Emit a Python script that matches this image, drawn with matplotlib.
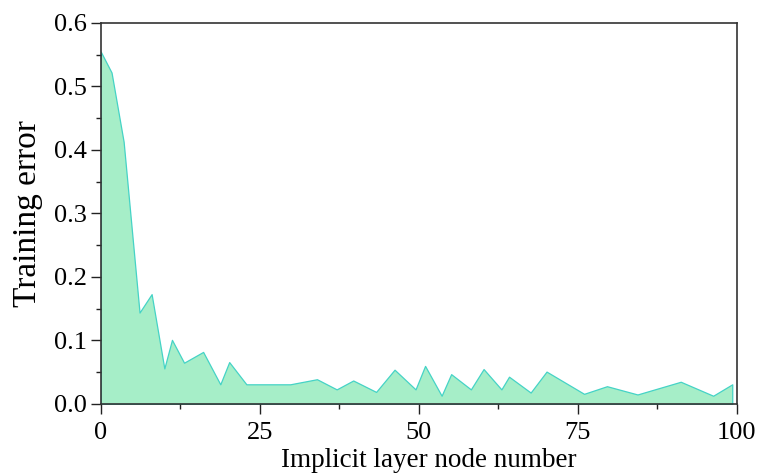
import matplotlib
matplotlib.use('Agg')
import matplotlib.pyplot as plt
from matplotlib.ticker import MultipleLocator

plt.rc('font', family='serif', serif=['Liberation Serif', 'DejaVu Serif'])

## Data
nodes = [0, 1.7, 3.6, 6.1, 8.0, 10.0, 11.2, 13.1, 16.1, 18.8, 20.2, 22.9,
         29.8, 34.0, 37.1, 39.7, 43.3, 46.2, 49.5, 51.0, 53.6, 55.1, 58.2,
         60.2, 63.0, 64.2, 67.6, 70.1, 76.0, 79.6, 84.4, 91.2, 96.3, 99.3]
train_err = [0.555, 0.522, 0.413, 0.144, 0.173, 0.056, 0.101, 0.065, 0.082,
             0.031, 0.066, 0.031, 0.031, 0.039, 0.023, 0.037, 0.019, 0.054,
             0.023, 0.060, 0.013, 0.047, 0.023, 0.055, 0.023, 0.043, 0.018,
             0.051, 0.016, 0.028, 0.015, 0.035, 0.013, 0.031]

## Plotting
fig = plt.figure(figsize=(7.58, 4.74), dpi=100)
ax = fig.add_axes([0.1329, 0.1477, 0.839, 0.8038])

ax.fill_between(nodes, train_err, 0, facecolor='#a6eec8',
                edgecolor='#45d3c6', linewidth=0.9)

ax.set_xlim(0, 100)
ax.set_ylim(0, 0.6)
ax.xaxis.set_major_locator(MultipleLocator(25))
ax.xaxis.set_minor_locator(MultipleLocator(12.5))
ax.yaxis.set_major_locator(MultipleLocator(0.1))
ax.yaxis.set_minor_locator(MultipleLocator(0.05))
ax.yaxis.set_major_formatter(plt.FormatStrFormatter('%.1f'))

ax.tick_params(which='major', direction='out', length=7, width=1.0,
               labelsize=19, color='#222222', pad=3)
ax.tick_params(axis='x', which='major', pad=6)
ax.tick_params(which='minor', direction='out', length=3.5, width=1.0,
               color='#222222')
ax.tick_params(top=False, right=False, which='both')

for s in ax.spines.values():
    s.set_linewidth(1.2)
    s.set_color('#333333')

ax.set_xlabel("Implicit layer node number", fontsize=19.5)
ax.xaxis.set_label_coords(0.516, -0.116)
ax.set_ylabel("Training error", fontsize=24, labelpad=8)

fig.savefig("out.png", dpi=100)
